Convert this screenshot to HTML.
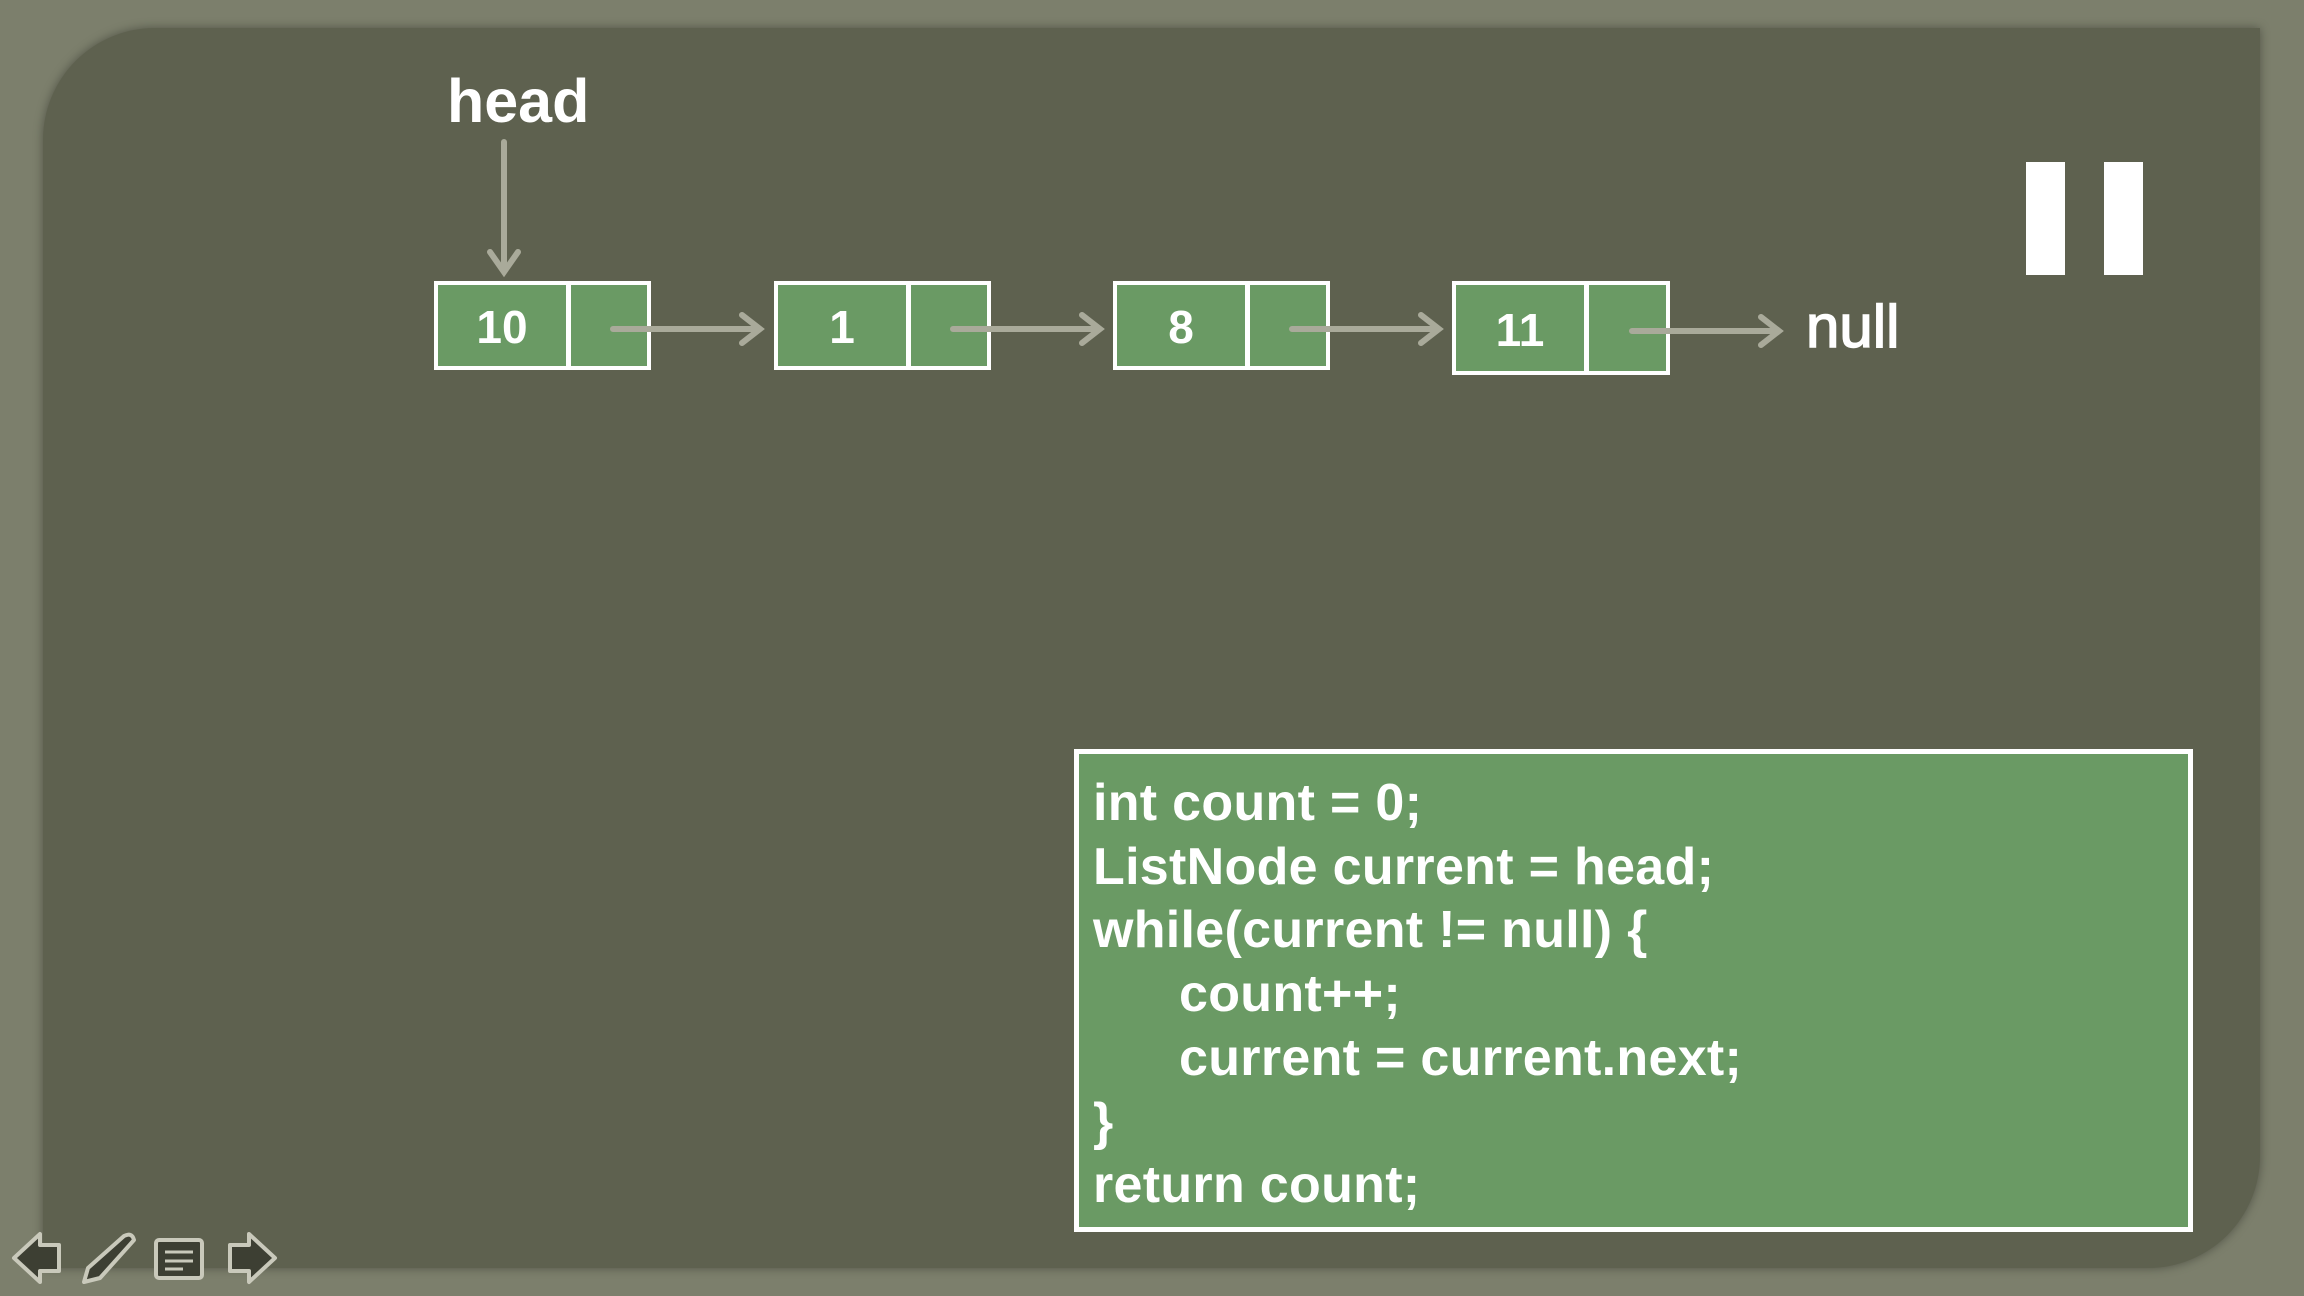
<!DOCTYPE html>
<html><head><meta charset="utf-8"><style>
body{margin:0;width:2304px;height:1296px;background:#7c7f6c;overflow:hidden;position:relative;font-family:"Liberation Sans",sans-serif}
.panel{position:absolute;left:43px;top:28px;width:2217px;height:1240px;background:#5e614f;border-radius:112px 0 112px 0;box-shadow:0 0 10px rgba(0,0,0,.35)}
.node{position:absolute;height:89px;border:4px solid #fff;background:#6a9a64;box-sizing:border-box}
.node .div{position:absolute;left:128px;top:0;bottom:0;width:5px;background:#fff}
.node .v{position:absolute;left:0;width:128px;top:3px;bottom:0;display:flex;align-items:center;justify-content:center;color:#fff;font-weight:bold;font-size:46px}
.code{position:absolute;left:1074px;top:749px;width:1119px;height:483px;border:5px solid #fff;background:#6a9a64;box-sizing:border-box;color:#fff;font-weight:bold;font-size:52px;line-height:63.7px;padding:18px 0 0 14px;letter-spacing:0.3px}
.code div{white-space:pre}
.code .in{padding-left:86px}
.t{position:absolute;color:#fff;font-weight:bold}
.bar{position:absolute;background:#fff;top:162px;height:113px;width:39px}
</style></head><body>
<div class="panel"></div>
<div class="t" style="left:447px;top:66px;font-size:61px">head</div>
<div class="t" style="left:1806px;top:292px;font-size:60px;font-weight:normal;-webkit-text-stroke:1.5px #fff">null</div>
<div class="node" style="left:434px;top:281px;width:217px"><div class="v">10</div><div class="div"></div></div>
<div class="node" style="left:774px;top:281px;width:217px"><div class="v">1</div><div class="div"></div></div>
<div class="node" style="left:1113px;top:281px;width:217px"><div class="v">8</div><div class="div"></div></div>
<div class="node" style="left:1452px;top:281px;width:218px;height:94px"><div class="v">11</div><div class="div"></div></div>
<svg width="2304" height="1296" style="position:absolute;left:0;top:0">
<g stroke="#a9aa9a" stroke-width="6" fill="none" stroke-linecap="round">
<path d="M504 142V272M490 252L504 272L518 252"/>
<path d="M613 329H760M742 315L760 329L742 343"/>
<path d="M953 329H1100M1082 315L1100 329L1082 343"/>
<path d="M1292 329H1439M1421 315L1439 329L1421 343"/>
<path d="M1632 331H1779M1761 317L1779 331L1761 345"/>
</g></svg>
<div class="bar" style="left:2026px"></div>
<div class="bar" style="left:2104px"></div>
<div class="code">
<div>int count = 0;</div><div>ListNode current = head;</div><div>while(current != null) {</div><div class="in">count++;</div><div class="in">current = current.next;</div><div>}</div><div>return count;</div>
</div>
<svg width="300" height="60" style="position:absolute;left:0;top:1230px">
<g stroke="#c9c9bb" stroke-width="4" fill="#3d3f33" stroke-linejoin="round">
<path d="M14 28L40 4V15H59V41H40V52Z"/>
<path d="M84 52L88 38L124 6Q132 2 134 10L100 48Z"/>
<rect x="156" y="10" width="46" height="38" rx="3"/>
<path d="M230 15H249V4L275 28L249 52V41H230Z"/>
</g>
<g stroke="#c9c9bb" stroke-width="3"><path d="M165 22H193M165 31H193M165 39H183"/></g>
</svg>
</body></html>
